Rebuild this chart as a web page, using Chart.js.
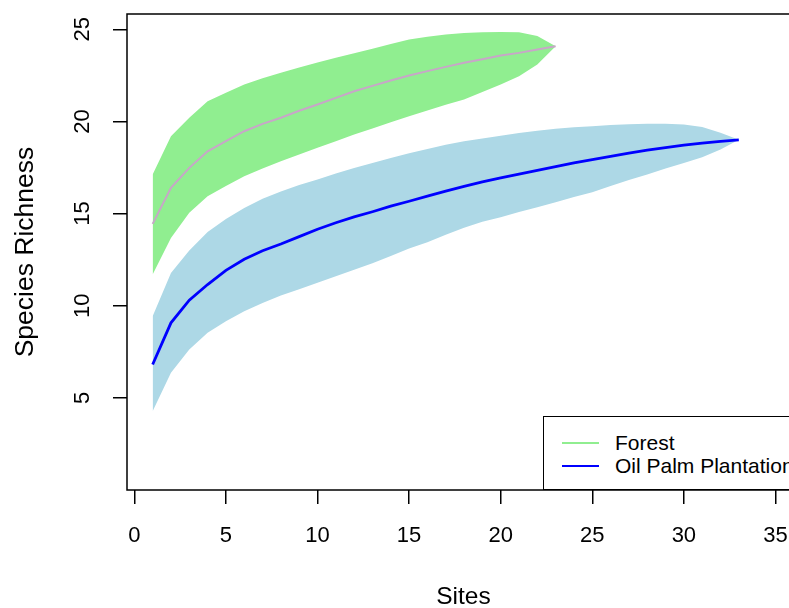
<!DOCTYPE html>
<html>
<head>
<meta charset="utf-8">
<script src="https://cdn.jsdelivr.net/npm/chart.js@4/dist/chart.umd.min.js"></script>
<style>
  html, body { margin: 0; padding: 0; background: #fff; width: 789px; height: 608px; overflow: hidden; }
  #wrap { position: relative; width: 800px; height: 608px; }
  #legend {
    position: absolute; left: 543px; top: 416px; width: 280px; height: 74px;
    border: 1.5px solid #000; background: #fff; box-sizing: border-box;
    font-family: "Liberation Sans", Arial, sans-serif; font-size: 21px; color: #000;
  }
  #legend .row { position: absolute; left: 0; height: 22px; line-height: 22px; white-space: nowrap; }
  #legend .swatch { position: absolute; left: 18px; width: 37px; }
  #legend .label { position: absolute; left: 71px; top: 0; }
</style>
</head>
<body>
<div id="wrap">
  <canvas id="richnessChart" width="800" height="608"></canvas>
  <div id="legend"></div>
</div>
<script>
// species accumulation
const forestSites = [1, 2, 3, 4, 5, 6, 7, 8, 9, 10, 11, 12, 13, 14, 15, 16, 17, 18, 19, 20, 21, 22, 23];
const forestMean = [14.44, 16.40, 17.48, 18.38, 18.93, 19.47, 19.87, 20.20, 20.58, 20.92, 21.28, 21.64,
  21.93, 22.22, 22.49, 22.73, 22.96, 23.18, 23.38, 23.58, 23.72, 23.90, 24.08];
const forestUpper = [17.12, 19.20, 20.20, 21.10, 21.55, 22.00, 22.35, 22.64, 22.93, 23.20, 23.45, 23.70,
  23.95, 24.20, 24.45, 24.60, 24.72, 24.80, 24.84, 24.86, 24.84, 24.63, 24.08];
const forestLower = [11.69, 13.68, 15.04, 15.94, 16.49, 17.03, 17.45, 17.84, 18.20, 18.57, 18.93, 19.29,
  19.62, 19.95, 20.28, 20.60, 20.90, 21.19, 21.60, 22.00, 22.45, 23.09, 24.08];

const palmSites = [1, 2, 3, 4, 5, 6, 7, 8, 9, 10, 11, 12, 13, 14, 15, 16, 17, 18, 19, 20, 21, 22, 23, 24, 25,
  26, 27, 28, 29, 30, 31, 32, 33];
const palmMean = [6.81, 9.07, 10.30, 11.15, 11.92, 12.52, 12.98, 13.35, 13.75, 14.15, 14.50, 14.82, 15.10,
  15.40, 15.67, 15.95, 16.22, 16.48, 16.72, 16.94, 17.14, 17.34, 17.55, 17.75, 17.93, 18.10, 18.28, 18.44,
  18.58, 18.71, 18.82, 18.92, 19.00];
const palmUpper = [9.43, 11.78, 13.00, 14.00, 14.70, 15.30, 15.80, 16.20, 16.55, 16.85, 17.17, 17.47, 17.75,
  18.02, 18.27, 18.50, 18.73, 18.93, 19.08, 19.23, 19.37, 19.50, 19.60, 19.68, 19.74, 19.80, 19.85, 19.88,
  19.88, 19.83, 19.70, 19.38, 19.00];
const palmLower = [4.28, 6.36, 7.62, 8.53, 9.16, 9.70, 10.15, 10.55, 10.90, 11.25, 11.60, 11.95, 12.30,
  12.70, 13.10, 13.45, 13.85, 14.23, 14.55, 14.80, 15.08, 15.35, 15.62, 15.90, 16.16, 16.50, 16.82, 17.12,
  17.45, 17.75, 18.06, 18.48, 19.00];

const xTicks = [0, 5, 10, 15, 20, 25, 30, 35];
const yTicks = [5, 10, 15, 20, 25];
const seriesNames = ['Forest', 'Oil Palm Plantation'];
const legendColors = ['#90EE90', '#0000FF'];

const FONT = '"Liberation Sans", Arial, sans-serif';

function pts(xs, ys) {
  return ys.map((v, i) => ({ x: xs[i], y: v }));
}

function band(xs, ys, fillColor, fillTo) {
  return {
    data: pts(xs, ys),
    borderWidth: 0,
    borderColor: 'rgba(0,0,0,0)',
    backgroundColor: fillColor,
    pointRadius: 0,
    fill: fillTo
  };
}

// R style box round the plot region (its right side lies past the crop)
const boxPlugin = {
  id: 'plotBox',
  afterDraw(chart) {
    const a = chart.chartArea;
    const ctx = chart.ctx;
    ctx.save();
    ctx.strokeStyle = '#000';
    ctx.lineWidth = 1.5;
    ctx.strokeRect(a.left, a.top, a.right - a.left + 20, a.bottom - a.top);
    ctx.restore();
  }
};

const ctx = document.getElementById('richnessChart').getContext('2d');
new Chart(ctx, {
  type: 'line',
  data: {
    datasets: [
      { label: seriesNames[0], data: pts(forestSites, forestMean), borderColor: '#C8A6C8', borderWidth: 2,
        pointRadius: 0, fill: false },
      { label: seriesNames[1], data: pts(palmSites, palmMean), borderColor: '#0000FF', borderWidth: 2.8,
        pointRadius: 0, fill: false },
      band(forestSites, forestLower, 'rgba(0,0,0,0)', false),
      band(forestSites, forestUpper, '#90EE90', '-1'),
      band(palmSites, palmLower, 'rgba(0,0,0,0)', false),
      band(palmSites, palmUpper, '#ADD8E6', '-1')
    ]
  },
  options: {
    responsive: false,
    animation: false,
    devicePixelRatio: 1,
    layout: { padding: { top: 14, right: 0, left: 0, bottom: 0 } },
    plugins: {
      legend: { display: false },
      tooltip: { enabled: false }
    },
    elements: { line: { tension: 0 } },
    scales: {
      x: {
        type: 'linear',
        min: -0.40,
        max: 36.34,
        afterBuildTicks: (s) => { s.ticks = xTicks.map(v => ({ value: v })); },
        afterFit: (s) => { s.height = 118; s.paddingLeft = 0; s.paddingRight = 0; },
        border: { display: false },
        grid: { drawOnChartArea: false, drawTicks: true, tickLength: 14, color: '#000', lineWidth: 1.5 },
        ticks: { color: '#000', padding: 19, font: { family: FONT, size: 22 }, maxRotation: 0 },
        title: { display: true, text: 'Sites', color: '#000', font: { family: FONT, size: 24.5, lineHeight: 0.9 },
          padding: { top: 0, bottom: 0 } }
      },
      y: {
        type: 'linear',
        min: 0,
        max: 25.83,
        afterBuildTicks: (s) => { s.ticks = yTicks.map(v => ({ value: v })); },
        afterFit: (s) => { s.width = 127; s.paddingTop = 0; s.paddingBottom = 0; },
        border: { display: false },
        grid: { drawOnChartArea: false, drawTicks: true, tickLength: 14, color: '#000', lineWidth: 1.5 },
        ticks: { color: '#000', padding: 18, minRotation: 90, maxRotation: 90, crossAlign: 'center',
          font: { family: FONT, size: 22 } },
        title: { display: true, text: 'Species Richness', color: '#000', font: { family: FONT, size: 26.5 },
          padding: { top: 10, bottom: 0 } }
      }
    }
  },
  plugins: [boxPlugin]
});

// legend box in the bottom right corner, like R's legend()
const legendEl = document.getElementById('legend');
const rowTops = [15, 38];
seriesNames.forEach((name, i) => {
  const row = document.createElement('div');
  row.className = 'row';
  row.style.top = rowTops[i] + 'px';
  const sw = document.createElement('div');
  sw.className = 'swatch';
  sw.style.top = '10px';
  sw.style.borderTop = (i === 0 ? 2 : 2.5) + 'px solid ' + legendColors[i];
  const lab = document.createElement('span');
  lab.className = 'label';
  lab.textContent = name;
  row.appendChild(sw);
  row.appendChild(lab);
  legendEl.appendChild(row);
});
</script>
</body>
</html>
